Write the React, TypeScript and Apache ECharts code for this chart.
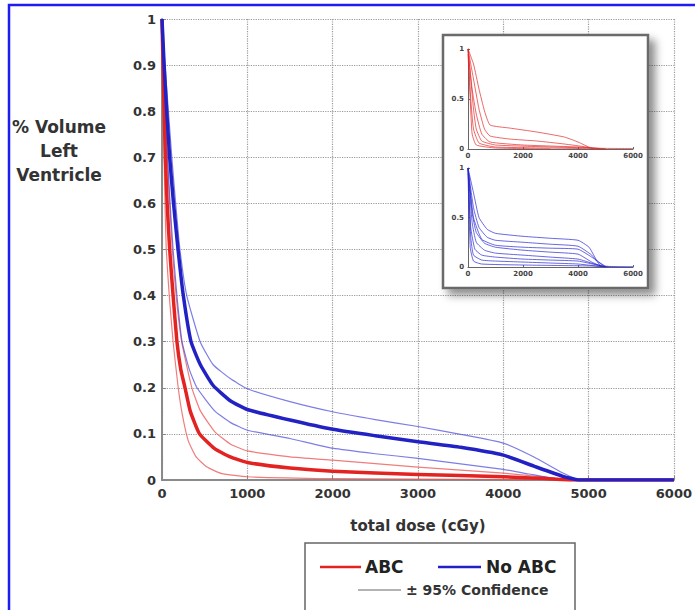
import React, { useEffect, useRef } from "react";
import * as echarts from "echarts";

// ---- Main chart data: [dose (cGy), fraction of volume] ----
const abcMean = [[0,1],[12,0.9],[25,0.8],[40,0.7],[60,0.6],[90,0.5],[130,0.4],[175,0.3],[220,0.24],[270,0.2],[330,0.15],[440,0.1],[617,0.068],[800,0.05],[1000,0.038],[1500,0.026],[2000,0.019],[3000,0.012],[4000,0.007],[4500,0.003],[4800,0],[6000,0]];
const abcLower = [[0,1],[8,0.9],[16,0.8],[25,0.7],[35,0.6],[50,0.5],[85,0.4],[130,0.3],[190,0.2],[240,0.14],[308,0.085],[400,0.05],[528,0.028],[700,0.014],[1000,0.007],[2000,0.003],[3000,0.002],[4000,0.001],[4500,0],[6000,0]];
const abcUpper = [[0,1],[20,0.9],[40,0.8],[60,0.7],[90,0.6],[120,0.5],[165,0.4],[230,0.3],[350,0.2],[450,0.15],[617,0.105],[800,0.078],[1000,0.063],[1500,0.05],[2000,0.043],[3000,0.028],[4000,0.015],[4500,0.006],[4800,0],[6000,0]];
const noAbcMean = [[0,1],[25,0.9],[55,0.8],[90,0.7],[135,0.6],[188,0.5],[250,0.4],[340,0.3],[450,0.25],[600,0.205],[800,0.172],[1000,0.153],[1500,0.13],[2000,0.11],[2500,0.096],[3000,0.083],[3500,0.071],[4000,0.054],[4360,0.03],[4700,0.008],[4900,0],[6000,0]];
const noAbcUpper = [[0,1],[35,0.9],[75,0.8],[115,0.7],[160,0.6],[210,0.5],[290,0.4],[447,0.3],[600,0.25],[800,0.22],[1000,0.198],[1500,0.17],[2000,0.148],[2500,0.131],[3000,0.116],[3500,0.099],[4000,0.08],[4360,0.05],[4700,0.015],[4900,0],[6000,0]];
const noAbcLower = [[0,1],[18,0.9],[40,0.8],[65,0.7],[95,0.6],[130,0.5],[175,0.4],[235,0.3],[320,0.24],[410,0.2],[617,0.15],[800,0.125],[1000,0.108],[1500,0.09],[2000,0.069],[2500,0.057],[3000,0.047],[3500,0.035],[4000,0.023],[4300,0.013],[4600,0.003],[4800,0],[6000,0]];

// ---- Inset: individual patient curves ----
const insetAbc1 = [[0,1],[200,0.85],[400,0.6],[600,0.38],[800,0.24],[1500,0.21],[2500,0.17],[3500,0.12],[4000,0.07],[4500,0.01],[6000,0.005]];
const insetAbc2 = [[0,1],[200,0.7],[400,0.4],[600,0.2],[800,0.13],[1500,0.1],[2500,0.08],[3500,0.05],[4300,0.02],[4600,0]];
const insetAbc3 = [[0,1],[100,0.7],[200,0.4],[300,0.2],[500,0.08],[1000,0.04],[3000,0.02],[4500,0.01],[5000,0]];
const insetAbc4 = [[0,1],[100,0.5],[200,0.2],[400,0.06],[1000,0.02],[4000,0.005],[4800,0]];
const insetAbc5 = [[0,0.95],[80,0.5],[150,0.15],[300,0.04],[1000,0.01],[3000,0]];
const insetAbc6 = [[0,1],[150,0.6],[300,0.35],[500,0.15],[800,0.07],[2000,0.04],[4000,0.02],[5000,0]];
const insetNoAbc1 = [[0,1],[200,0.75],[400,0.5],[700,0.38],[1000,0.34],[2000,0.31],[3000,0.29],[4000,0.27],[4400,0.2],[4700,0.06],[5000,0]];
const insetNoAbc2 = [[0,1],[200,0.6],[400,0.4],[700,0.3],[1000,0.27],[2000,0.25],[3000,0.23],[4000,0.21],[4500,0.12],[4800,0.02],[5000,0]];
const insetNoAbc3 = [[0,1],[150,0.55],[300,0.35],[600,0.24],[1000,0.2],[2000,0.17],[3000,0.15],[4000,0.13],[4500,0.05],[4900,0]];
const insetNoAbc4 = [[0,1],[150,0.45],[300,0.25],[600,0.17],[1000,0.14],[2000,0.12],[3000,0.1],[4000,0.08],[4600,0.03],[5000,0]];
const insetNoAbc5 = [[0,1],[100,0.4],[250,0.18],[500,0.12],[1000,0.1],[2000,0.08],[3000,0.07],[4000,0.06],[4700,0.02],[5100,0]];
const insetNoAbc6 = [[0,1],[100,0.3],[200,0.12],[500,0.07],[1000,0.06],[2000,0.05],[3000,0.04],[4000,0.03],[5000,0]];
const insetNoAbc7 = [[0,0.95],[80,0.2],[200,0.06],[500,0.03],[2000,0.02],[4500,0.01],[5200,0],[6000,0]];
const insetNoAbc8 = [[0,1],[200,0.5],[500,0.28],[1000,0.22],[2000,0.2],[3000,0.19],[4000,0.18],[4500,0.1],[5000,0.01],[6000,0]];

const insetAbcCurves = [insetAbc1, insetAbc2, insetAbc3, insetAbc4, insetAbc5, insetAbc6];
const insetNoAbcCurves = [insetNoAbc1, insetNoAbc2, insetNoAbc3, insetNoAbc4, insetNoAbc5, insetNoAbc6, insetNoAbc7, insetNoAbc8];

const xLabelName = "total dose (cGy)";
const yLabelName = "% Volume\nLeft\nVentricle";
const legendAbc = "ABC";
const legendNoAbc = "No ABC";
const legendCI = "± 95% Confidence";

const FONT = '"DejaVu Sans", Verdana, sans-serif';
const RED = "#e32322";
const BLUE = "#2222c4";

const plainNumber = (v: number) => String(Math.round(v * 1000) / 1000);

function lineSeries(name: string, data: number[][], color: string, width: number, axisIndex: number, z: number) {
  return {
    type: "line",
    name,
    data,
    xAxisIndex: axisIndex,
    yAxisIndex: axisIndex,
    showSymbol: false,
    symbol: "none",
    smooth: 0.15,
    lineStyle: { color, width, join: "round" },
    z,
    silent: true,
  };
}

export default function App() {
  const ref = useRef<HTMLDivElement>(null);
  useEffect(() => {
    if (!ref.current) return;
    const chart = echarts.init(ref.current, undefined, { renderer: "svg" });

    const insetAxisLabel = { fontSize: 7, color: "#444", fontFamily: FONT, fontWeight: "bold" as const, formatter: plainNumber };
    const insetX = (gi: number) => ({
      type: "value", gridIndex: gi, min: 0, max: 6000, interval: 2000, z: 60,
      axisLine: { show: true, onZero: false, lineStyle: { color: "#666", width: 1 } },
      axisTick: { show: true, inside: true, length: 2, lineStyle: { color: "#666" } },
      axisLabel: { ...insetAxisLabel, margin: 3 },
      splitLine: { show: false },
    });
    const insetY = (gi: number) => ({
      type: "value", gridIndex: gi, min: 0, max: 1, interval: 0.5, z: 60,
      axisLine: { show: true, lineStyle: { color: "#666", width: 1 } },
      axisTick: { show: true, inside: true, length: 2, lineStyle: { color: "#666" } },
      axisLabel: { ...insetAxisLabel, margin: 4 },
      splitLine: { show: false },
    });

    const series: any[] = [
      lineSeries("ABC lower", abcLower, "rgba(235,80,80,0.75)", 1.2, 0, 3),
      lineSeries("ABC upper", abcUpper, "rgba(235,80,80,0.75)", 1.2, 0, 3),
      lineSeries("No ABC lower", noAbcLower, "rgba(70,70,220,0.7)", 1.2, 0, 3),
      lineSeries("No ABC upper", noAbcUpper, "rgba(70,70,220,0.7)", 1.2, 0, 3),
      lineSeries(legendAbc, abcMean, RED, 3.5, 0, 4),
      lineSeries(legendNoAbc, noAbcMean, BLUE, 3.5, 0, 5),
    ];
    insetAbcCurves.forEach((c, i) => series.push(lineSeries("ABC patient " + (i + 1), c, "rgba(228,40,40,0.7)", 1, 1, 60)));
    insetNoAbcCurves.forEach((c, i) => series.push(lineSeries("No ABC patient " + (i + 1), c, "rgba(40,40,210,0.7)", 1, 2, 60)));

    chart.setOption({
      animation: false,
      backgroundColor: "#ffffff",
      grid: [
        { left: 162, top: 19, width: 516, height: 461 },
        { left: 468, top: 49, width: 165, height: 100 },
        { left: 468, top: 168, width: 165, height: 99 },
      ],
      xAxis: [
        {
          type: "value", gridIndex: 0, min: 0, max: 6000, interval: 1000,
          name: xLabelName, nameLocation: "middle", nameGap: 38,
          nameTextStyle: { fontFamily: FONT, fontWeight: "bold", fontSize: 15, color: "#333" },
          axisLine: { show: true, onZero: false, lineStyle: { color: "#8a8a8a", width: 2 } },
          axisTick: { show: true, inside: true, length: 4, lineStyle: { color: "#888" } },
          axisLabel: { fontFamily: FONT, fontWeight: "bold", fontSize: 13, color: "#333", margin: 7, formatter: plainNumber },
          splitLine: { show: true, lineStyle: { color: "#9a9a9a", type: "dotted", width: 1.2 } },
        },
        insetX(1),
        insetX(2),
      ],
      yAxis: [
        {
          type: "value", gridIndex: 0, min: 0, max: 1, interval: 0.1,
          axisLine: { show: true, lineStyle: { color: "#8a8a8a", width: 2 } },
          axisTick: { show: true, inside: true, length: 4, lineStyle: { color: "#888" } },
          axisLabel: { fontFamily: FONT, fontWeight: "bold", fontSize: 13, color: "#333", margin: 6, formatter: plainNumber },
          splitLine: { show: true, lineStyle: { color: "#9a9a9a", type: "dotted", width: 1.2 } },
        },
        insetY(1),
        insetY(2),
      ],
      graphic: [
        // outer blue border
        { type: "rect", z: 100, silent: true, shape: { x: 9, y: 5, width: 720, height: 700 }, style: { fill: "none", stroke: "#1c1cf5", lineWidth: 2.5 } },
        // y-axis title
        {
          type: "text", z: 50, silent: true, x: 59, y: 151,
          style: { text: yLabelName, font: `bold 17px ${FONT}`, fill: "#333", textAlign: "center", textVerticalAlign: "middle", lineHeight: 24 },
        },
        // inset frame with shadow
        {
          type: "rect", z: 40, silent: true, shape: { x: 443, y: 35, width: 205, height: 253 },
          style: { fill: "#ffffff", stroke: "#6a6a6a", lineWidth: 2.5, shadowBlur: 8, shadowOffsetX: 6, shadowOffsetY: 6, shadowColor: "rgba(0,0,0,0.45)" },
        },
        // legend box
        { type: "rect", z: 50, silent: true, shape: { x: 305, y: 543, width: 270, height: 90 }, style: { fill: "#ffffff", stroke: "#666", lineWidth: 1.5 } },
        { type: "line", z: 51, silent: true, shape: { x1: 320, y1: 567, x2: 361, y2: 567 }, style: { stroke: RED, lineWidth: 2.5 } },
        { type: "text", z: 51, silent: true, x: 365, y: 567, style: { text: legendAbc, font: `bold 17px ${FONT}`, fill: "#222", textAlign: "left", textVerticalAlign: "middle" } },
        { type: "line", z: 51, silent: true, shape: { x1: 438, y1: 567, x2: 481, y2: 567 }, style: { stroke: BLUE, lineWidth: 2.5 } },
        { type: "text", z: 51, silent: true, x: 486, y: 567, style: { text: legendNoAbc, font: `bold 17px ${FONT}`, fill: "#222", textAlign: "left", textVerticalAlign: "middle" } },
        { type: "line", z: 51, silent: true, shape: { x1: 358, y1: 590, x2: 401, y2: 590 }, style: { stroke: "#9a9a9a", lineWidth: 1.5 } },
        { type: "text", z: 51, silent: true, x: 406, y: 590, style: { text: legendCI, font: `bold 14px ${FONT}`, fill: "#333", textAlign: "left", textVerticalAlign: "middle" } },
      ],
      series,
    });

    return () => chart.dispose();
  }, []);

  return (
    <div
      ref={ref}
      style={{ position: "absolute", left: 0, top: 0, width: 695, height: 610 }}
    />
  );
}
